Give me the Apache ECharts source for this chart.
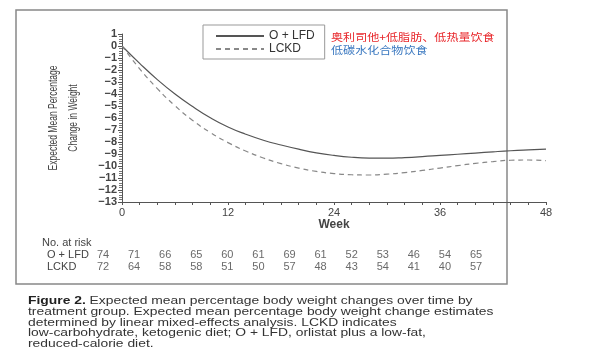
<!DOCTYPE html>
<html><head><meta charset="utf-8">
<script src="https://cdn.jsdelivr.net/npm/echarts@6/dist/echarts.min.js"></script>
<style>html,body{margin:0;padding:0;background:#fff}#c{width:600px;height:360px}</style>
</head><body><div id="c"></div>
<script>
const weeks = [0,2,4,6,8,10,12,14,16,18,20,22,24,26,28,30,32,34,36,38,40,42,44,46,48];
const olfd  = [0,-1.45,-2.8,-4.0,-5.05,-5.98,-6.75,-7.35,-7.85,-8.25,-8.6,-8.9,-9.12,-9.27,-9.34,-9.35,-9.3,-9.22,-9.12,-9.02,-8.92,-8.82,-8.73,-8.66,-8.6];
const lckd  = [0,-1.9,-3.55,-4.98,-6.2,-7.22,-8.05,-8.75,-9.33,-9.8,-10.17,-10.45,-10.63,-10.73,-10.75,-10.68,-10.55,-10.37,-10.17,-9.97,-9.78,-9.63,-9.52,-9.5,-9.55];
const riskOLFD = [74,71,66,65,60,61,69,61,52,53,46,54,65];
const riskLCKD = [72,64,58,58,51,50,57,48,43,54,41,40,57];
const seriesNames = ['O + LFD','LCKD'];
const cnNames = ['奥利司他+低脂肪、低热量饮食','低碳水化合物饮食'];
const yTicks = {min:-13, max:1, interval:1};
const xTicks = {min:0, max:48, interval:12};

const F = 'Arial, "Liberation Sans", sans-serif';
const chart = echarts.init(document.getElementById('c'), null, {renderer:'canvas'});
const minus = v => v < 0 ? '\u2212' + Math.abs(v) : String(v);

const riskData = [];
riskOLFD.forEach((v,i)=>riskData.push([i,1,v]));
riskLCKD.forEach((v,i)=>riskData.push([i,0,v]));

chart.setOption({
  backgroundColor:'#fff',
  animation:false,
  grid:[
    {left:122, top:34, right:54, bottom:158},
    {left:103, right:124, top:255, bottom:93}
  ],
  legend:{
    left:203, top:25, orient:'vertical',
    padding:[5,10,4,12], itemGap:1, itemWidth:48, itemHeight:12,
    borderColor:'#999', borderWidth:1,
    data:seriesNames,
    itemStyle:{color:'rgba(0,0,0,0)', borderWidth:0, opacity:0},
    textStyle:{fontFamily:F, fontSize:12, color:'#333'}
  },
  xAxis:[
    {type:'value', gridIndex:0, min:xTicks.min, max:xTicks.max, interval:xTicks.interval,
     name:'Week', nameLocation:'middle', nameGap:17,
     nameTextStyle:{fontFamily:F, fontSize:12, fontWeight:'bold', color:'#444'},
     axisLine:{onZero:false, lineStyle:{color:'#555', width:1}},
     axisTick:{show:true, length:3, lineStyle:{color:'#555'}},
     minorTick:{show:true, splitNumber:6, length:3, lineStyle:{color:'#555'}},
     splitLine:{show:false},
     axisLabel:{fontFamily:F, fontSize:11, color:'#444', margin:5}
    },
    {type:'value', gridIndex:1, min:0, max:12, show:false}
  ],
  yAxis:[
    {type:'value', gridIndex:0, min:yTicks.min, max:yTicks.max, interval:yTicks.interval,
     axisLine:{show:true, onZero:false, lineStyle:{color:'#555', width:1}},
     axisTick:{show:true, length:4, lineStyle:{color:'#555'}},
     minorTick:{show:true, splitNumber:5, length:3, lineStyle:{color:'#777'}},
     splitLine:{show:false},
     axisLabel:{fontFamily:F, fontSize:11, fontWeight:'bold', color:'#444', margin:5, formatter:minus}
    },
    {type:'value', gridIndex:1, min:0, max:1, show:false}
  ],
  series:[
    {name:seriesNames[0], type:'line', smooth:true, symbol:'none', xAxisIndex:0, yAxisIndex:0,
     data:weeks.map((w,i)=>[w,olfd[i]]), lineStyle:{color:'#555', width:1.2}, itemStyle:{color:'#555'}},
    {name:seriesNames[1], type:'line', smooth:true, symbol:'none', xAxisIndex:0, yAxisIndex:0,
     data:weeks.map((w,i)=>[w,lckd[i]]), lineStyle:{color:'#888', width:1.2, type:[5,4]}, itemStyle:{color:'#888'}},
    {type:'scatter', xAxisIndex:1, yAxisIndex:1, symbolSize:1, itemStyle:{color:'rgba(0,0,0,0)'},
     data:riskData, silent:true,
     label:{show:true, position:'inside', formatter:p=>p.value[2], fontFamily:F, fontSize:11, color:'#444'}}
  ],
  graphic:[
    {type:'rect', shape:{x:16, y:10, width:491, height:274}, style:{fill:'none', stroke:'#888', lineWidth:1.5}, silent:true},
    {type:'text', x:63, y:118, rotation:Math.PI/2, scaleY:1.6,
     style:{text:'Expected Mean Percentage\nChange in Weight', font:'8.5px '+F, fill:'#444', align:'center', verticalAlign:'middle', lineHeight:12.5}},
    {type:'text', x:331, y:37, scaleX:1.15, style:{text:cnNames[0], font:'10.5px "Noto Sans CJK SC"', fill:'#e8262a', verticalAlign:'middle'}},
    {type:'text', x:331, y:50, scaleX:1.15, style:{text:cnNames[1], font:'10.5px "Noto Sans CJK SC"', fill:'#3a78c0', verticalAlign:'middle'}},
    {type:'text', x:42, y:243, style:{text:'No. at risk', font:'11px '+F, fill:'#444', verticalAlign:'middle'}},
    {type:'text', x:47, y:255, style:{text:'O + LFD', font:'11px '+F, fill:'#444', verticalAlign:'middle'}},
    {type:'text', x:47, y:267, style:{text:'LCKD', font:'11px '+F, fill:'#444', verticalAlign:'middle'}},
    {type:'text', x:28, y:296, scaleX:1.26,
     style:{
       text:'{b|Figure 2.}{n| Expected mean percentage body weight changes over time by}\n{n|treatment group. Expected mean percentage body weight change estimates}\n{n|determined by linear mixed-effects analysis. LCKD indicates}\n{n|low-carbohydrate, ketogenic diet; O + LFD, orlistat plus a low-fat,}\n{n|reduced-calorie diet.}',
       rich:{
         b:{fontFamily:F, fontSize:11, fontWeight:'bold', fill:'#222', lineHeight:10.7},
         n:{fontFamily:F, fontSize:11, fill:'#333', lineHeight:10.7}
       }
     }}
  ]
});
</script></body></html>
